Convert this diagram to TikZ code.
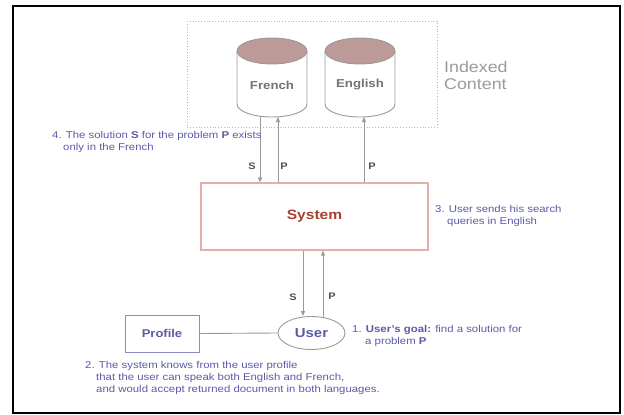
\documentclass[tikz,border=0pt]{standalone}
\usepackage{fontspec}
\setmainfont[FakeStretch=1.15]{Liberation Sans}
\usetikzlibrary{arrows.meta,shapes.geometric}
\definecolor{notecol}{HTML}{5A5AA8}
\definecolor{dbtop}{HTML}{BC9A98}
\definecolor{sysedge}{HTML}{E2B0A8}
\definecolor{systext}{HTML}{A8402E}
\definecolor{linecol}{HTML}{9A9A9A}
\definecolor{labcol}{HTML}{505050}
\tikzset{
  flow/.style={draw=linecol, line width=0.9pt, -{Triangle[length=5pt,width=4pt]}},
  plain/.style={draw=linecol, line width=0.9pt},
  note/.style={text=notecol, font=\fontsize{9.9}{12}\selectfont, align=left, anchor=north west, inner sep=0pt},
  flowlab/.style={text=labcol, font=\bfseries\fontsize{9.5}{10}\selectfont, inner sep=0pt},
  dblab/.style={text=labcol!80, font=\bfseries\fontsize{11.5}{12}\selectfont, inner sep=0pt},
}
\begin{document}
\begin{tikzpicture}[x=1pt,y=-1pt]
\useasboundingbox (0,0) rectangle (624,415);
% outer frame
\draw[line width=2.2pt, black] (13,6) rectangle (620,413);
% indexed content area
\draw[linecol!70, line width=0.8pt, dotted] (187,21) rectangle (437,127);
\node[text=linecol, font=\fontsize{15.5}{17.5}\selectfont, align=left, anchor=north west, inner sep=0pt] (idx) at (444,61) {Indexed\\Content};
% database cylinders
\foreach \cx/\nm/\lab in {272/fr/French, 360/en/English}{
  \draw[linecol, line width=0.9pt, fill=white]
    (\cx-35,51) -- (\cx-35,104) arc[start angle=180, end angle=0, x radius=35, y radius=13] -- (\cx+35,51);
  \draw[linecol, line width=0.9pt, fill=dbtop] (\cx,51) ellipse[x radius=35, y radius=13];
  \node[dblab] (\nm) at (\cx,85) {\lab};
  \coordinate (\nm b) at (\cx,117);
}
% system
\node[draw=sysedge, line width=1.2pt, minimum width=227pt, minimum height=67pt, inner sep=0pt,
      text=systext, font=\bfseries\fontsize{13.5}{15}\selectfont] (sys) at (314.5,216.5) {System};
% user and profile
\node[draw=linecol, line width=0.9pt, ellipse, minimum width=67pt, minimum height=33pt, inner sep=0pt,
      text=notecol, font=\bfseries\fontsize{13}{14}\selectfont] (user) at (311.5,333) {User};
\node[draw=notecol!70, line width=0.9pt, minimum width=74pt, minimum height=37pt, inner sep=0pt,
      text=notecol, font=\bfseries\fontsize{11.3}{13}\selectfont] (prof) at (162,333.5) {Profile};
\draw[plain] (prof.east) -- (user.west);
% connectors between databases and system
\draw[flow] ([xshift=-12pt]frb) -- ([xshift=-12pt]frb |- sys.north);
\draw[flow] ([xshift=6pt]frb |- sys.north) -- ([xshift=6pt]frb);
\draw[flow] ([xshift=4pt]enb |- sys.north) -- ([xshift=4pt]enb);
\node[flowlab] (s1) at (252,166) {S};
\node[flowlab] (p1) at (284,166) {P};
\node[flowlab] (p2) at (372,166) {P};
% connectors between system and user
\draw[flow] ([xshift=-11.5pt]sys.south) -- ([xshift=-11.5pt]sys.south |- user.north);
\draw[flow] ([xshift=8.5pt,yshift=-1pt]sys.south |- user.north) -- ([xshift=8.5pt]sys.south);
\node[flowlab] (s2) at (293,297) {S};
\node[flowlab] (p3) at (332,296) {P};
% notes
\node[note] (n4) at (52,131) {4. The solution \textbf{S} for the problem \textbf{P} exists\\\hspace*{11pt}only in the French};
\node[note] (n3) at (435,205) {3. User sends his search\\\hspace*{12pt}queries in English};
\node[note] (n1) at (352,325) {1. \textbf{User's goal:} find a solution for\\\hspace*{13pt}a problem \textbf{P}};
\node[note] (n2) at (85,361) {2. The system knows from the user profile\\\hspace*{11pt}that the user can speak both English and French,\\\hspace*{11pt}and would accept returned document in both languages.};
\end{tikzpicture}
\end{document}
